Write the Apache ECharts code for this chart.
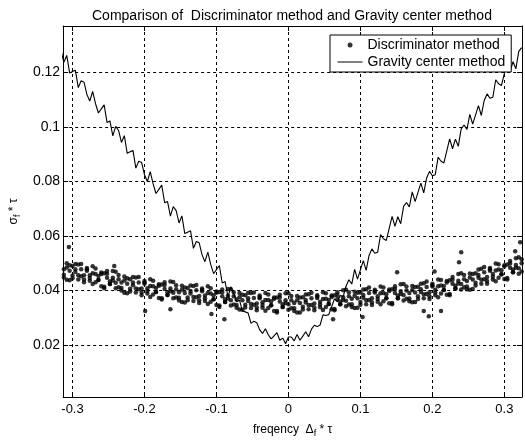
<!DOCTYPE html>
<html><head><meta charset="utf-8">
<script src="https://cdn.jsdelivr.net/npm/echarts@6/dist/echarts.min.js"></script>
<style>html,body{margin:0;padding:0;background:#fff}#c{width:525px;height:443px}</style>
</head><body><div id="c"></div>
<script>
// sample positions (frequency Δf*τ)
const xs = [
-0.316,-0.312,-0.308,-0.304,-0.3,-0.296,-0.292,-0.288,-0.284,-0.28,
-0.276,-0.272,-0.268,-0.264,-0.26,-0.256,-0.252,-0.248,-0.244,-0.24,
-0.236,-0.232,-0.228,-0.224,-0.22,-0.216,-0.212,-0.208,-0.204,-0.2,
-0.196,-0.192,-0.188,-0.184,-0.18,-0.176,-0.172,-0.168,-0.164,-0.16,
-0.156,-0.152,-0.148,-0.144,-0.14,-0.136,-0.132,-0.128,-0.124,-0.12,
-0.116,-0.112,-0.108,-0.104,-0.1,-0.096,-0.092,-0.088,-0.084,-0.08,
-0.076,-0.072,-0.068,-0.064,-0.06,-0.056,-0.052,-0.048,-0.044,-0.04,
-0.036,-0.032,-0.028,-0.024,-0.02,-0.016,-0.012,-0.008,-0.004,0,
0.004,0.008,0.012,0.016,0.02,0.024,0.028,0.032,0.036,0.04,
0.044,0.048,0.052,0.056,0.06,0.064,0.068,0.072,0.076,0.08,
0.084,0.088,0.092,0.096,0.1,0.104,0.108,0.112,0.116,0.12,
0.124,0.128,0.132,0.136,0.14,0.144,0.148,0.152,0.156,0.16,
0.164,0.168,0.172,0.176,0.18,0.184,0.188,0.192,0.196,0.2,
0.204,0.208,0.212,0.216,0.22,0.224,0.228,0.232,0.236,0.24,
0.244,0.248,0.252,0.256,0.26,0.264,0.268,0.272,0.276,0.28,
0.284,0.288,0.292,0.296,0.3,0.304,0.308,0.312,0.316,0.32,
0.324];
// Gravity center method (line)
const gravityY = [
0.128,0.1237,0.1262,0.1198,0.1203,0.1208,0.1144,0.1169,0.1164,0.1119,
0.1095,0.113,0.1085,0.1051,0.1066,0.1081,0.1016,0.1022,0.0967,0.1002,
0.0987,0.0943,0.0968,0.0903,0.0909,0.0914,0.0849,0.0874,0.087,0.0825,
0.080,0.0836,0.0791,0.0756,0.0771,0.0787,0.0722,0.0727,0.0673,0.0708,
0.0693,0.0648,0.0674,0.0609,0.0614,0.0619,0.0555,0.058,0.0575,0.0531,
0.0506,0.0541,0.0496,0.0462,0.0477,0.0492,0.0428,0.0433,0.0378,0.0414,
0.0389,0.0359,0.0365,0.0326,0.0322,0.0318,0.028,0.0288,0.0282,0.0257,
0.0243,0.026,0.0238,0.0223,0.0234,0.0246,0.0218,0.0226,0.0205,0.023,
0.023,0.0216,0.0239,0.0218,0.0233,0.0249,0.0231,0.0259,0.0273,0.0268,
0.0274,0.0311,0.0309,0.0312,0.0341,0.037,0.0359,0.0383,0.0377,0.0416,
0.044,0.0424,0.0478,0.0442,0.0476,0.051,0.0474,0.0529,0.0553,0.0537,
0.0541,0.0605,0.059,0.0584,0.0628,0.0672,0.0636,0.0671,0.0645,0.0709,
0.0723,0.0707,0.0762,0.0726,0.076,0.0794,0.0758,0.0813,0.0837,0.0821,
0.0825,0.0889,0.0874,0.0868,0.0912,0.0956,0.092,0.0955,0.0929,0.0993,
0.1007,0.0991,0.1046,0.101,0.1044,0.1078,0.1042,0.1097,0.1121,0.1105,
0.1109,0.1173,0.1158,0.1152,0.1196,0.124,0.1204,0.1239,0.1213,0.1277,
0.1291];
// Discriminator method (dots), three samples per position
const discY1 = [
0.0505,0.0458,0.0485,0.0438,0.049,0.0468,0.0456,0.0498,0.0431,0.0473,
0.0436,0.0464,0.0481,0.0439,0.0416,0.0464,0.0447,0.0424,0.0472,0.0429,
0.0457,0.041,0.0437,0.039,0.0442,0.042,0.0408,0.045,0.0383,0.0425,
0.0389,0.0417,0.0436,0.0395,0.0373,0.0422,0.0406,0.0384,0.0433,0.0392,
0.042,0.0374,0.0403,0.0356,0.041,0.0389,0.0377,0.0421,0.0355,0.0398,
0.0362,0.0391,0.0409,0.0368,0.0347,0.0395,0.0379,0.0358,0.0406,0.0365,
0.0394,0.0347,0.0376,0.033,0.0383,0.0362,0.0351,0.0393,0.0328,0.0372,
0.0337,0.0366,0.0386,0.0346,0.0325,0.0375,0.036,0.034,0.039,0.035,
0.038,0.0335,0.0365,0.032,0.0376,0.0356,0.0347,0.0392,0.0328,0.0373,
0.0339,0.0369,0.039,0.0351,0.0332,0.0383,0.0369,0.035,0.0401,0.0363,
0.0394,0.035,0.0381,0.0337,0.0393,0.0374,0.0365,0.0411,0.0347,0.0393,
0.0359,0.039,0.0411,0.0372,0.0354,0.0405,0.0391,0.0372,0.0423,0.0384,
0.0415,0.0371,0.0402,0.0358,0.0414,0.0395,0.0387,0.0433,0.0369,0.0415,
0.0383,0.0416,0.0439,0.0402,0.0385,0.0438,0.0425,0.0408,0.0461,0.0424,
0.0457,0.0415,0.0448,0.0406,0.0464,0.0447,0.044,0.0487,0.0425,0.0473,
0.0441,0.0474,0.0497,0.046,0.0443,0.0496,0.0484,0.0467,0.0519,0.0482,
0.0515];
const discY2 = [
0.046,0.0478,0.044,0.0493,0.0445,0.0478,0.0496,0.0453,0.0441,0.0483,
0.0456,0.0424,0.0461,0.0439,0.0466,0.0414,0.0472,0.0424,0.0447,0.0469,
0.0412,0.043,0.0392,0.0445,0.0397,0.043,0.0448,0.0405,0.0393,0.0435,
0.0409,0.0377,0.0416,0.0395,0.0423,0.0372,0.0431,0.0384,0.0408,0.0432,
0.0375,0.0394,0.0358,0.0411,0.0365,0.0399,0.0417,0.0376,0.0365,0.0408,
0.0382,0.0351,0.0389,0.0368,0.0397,0.0345,0.0404,0.0358,0.0381,0.0405,
0.0349,0.0367,0.0331,0.0385,0.0338,0.0372,0.0391,0.0348,0.0338,0.0382,
0.0357,0.0326,0.0366,0.0346,0.0375,0.0325,0.0385,0.034,0.0365,0.039,
0.0335,0.0355,0.032,0.0375,0.0331,0.0366,0.0387,0.0347,0.0338,0.0383,
0.0359,0.0329,0.037,0.0351,0.0382,0.0333,0.0394,0.035,0.0376,0.0403,
0.0349,0.037,0.0336,0.0392,0.0348,0.0384,0.0405,0.0366,0.0357,0.0403,
0.0379,0.035,0.0391,0.0372,0.0404,0.0355,0.0416,0.0372,0.0398,0.0424,
0.037,0.0391,0.0357,0.0413,0.0369,0.0405,0.0427,0.0388,0.0379,0.0425,
0.0403,0.0376,0.0419,0.0402,0.0435,0.0388,0.045,0.0408,0.0436,0.0464,
0.0412,0.0435,0.0403,0.0461,0.0419,0.0457,0.048,0.0442,0.0435,0.0483,
0.0461,0.0434,0.0477,0.046,0.0493,0.0446,0.0509,0.0467,0.0494,0.0522,
0.047];
const discY3 = [
0.049,0.0448,0.05,0.0473,0.0455,0.0498,0.0441,0.0478,0.0456,0.0478,
0.0446,0.0489,0.0431,0.0454,0.0461,0.0409,0.0462,0.0434,0.0437,0.0409,
0.0442,0.04,0.0452,0.0425,0.0407,0.045,0.0393,0.043,0.0408,0.043,
0.0399,0.0442,0.0386,0.041,0.0418,0.0367,0.0421,0.0394,0.0398,0.0372,
0.0405,0.0364,0.0418,0.0391,0.0375,0.0419,0.0362,0.0401,0.038,0.0403,
0.0372,0.0416,0.0359,0.0383,0.0392,0.034,0.0394,0.0368,0.0371,0.0345,
0.0379,0.0337,0.0391,0.0365,0.0348,0.0392,0.0336,0.0373,0.0353,0.0377,
0.0347,0.0391,0.0336,0.0361,0.037,0.032,0.0375,0.035,0.0355,0.033,
0.0365,0.0325,0.038,0.0355,0.0341,0.0386,0.0332,0.0372,0.0353,0.0378,
0.0349,0.0394,0.034,0.0366,0.0377,0.0328,0.0384,0.036,0.0366,0.0343,
0.0379,0.034,0.0396,0.0372,0.0358,0.0404,0.035,0.0391,0.0372,0.0398,
0.0369,0.0415,0.0361,0.0387,0.0399,0.035,0.0406,0.0382,0.0388,0.0364,
0.04,0.0361,0.0417,0.0393,0.0379,0.0425,0.0372,0.0413,0.0394,0.042,
0.0393,0.0441,0.0389,0.0417,0.043,0.0383,0.044,0.0418,0.0426,0.0404,
0.0442,0.0405,0.0463,0.0441,0.0429,0.0477,0.0425,0.0467,0.045,0.0478,
0.0451,0.0499,0.0447,0.0475,0.0488,0.0441,0.0499,0.0477,0.0484,0.0462,
0.05];
// isolated discriminator dots
const discOutX = [-0.305,-0.242,-0.199,-0.164,-0.107,-0.089,0.062,0.103,0.151,0.188,0.195,0.203,0.212,0.237,0.24,0.315,0.322];
const discOutY = [0.056,0.049,0.0325,0.0332,0.0314,0.0295,0.0295,0.0303,0.0467,0.0325,0.0306,0.047,0.0325,0.0504,0.0541,0.0544,0.0577];

const xTicks = [-0.3,-0.2,-0.1,0,0.1,0.2,0.3];
const xTickLabels = ['-0.3','-0.2','-0.1','0','0.1','0.2','0.3'];
const yTicks = [0.02,0.04,0.06,0.08,0.1,0.12];
const yTickLabels = ['0.02','0.04','0.06','0.08','0.1','0.12'];

const FONT = 'Liberation Sans, Arial, sans-serif';
function lab(ticks, labels){
  return function(v){ const i = ticks.findIndex(t => Math.abs(t - v) < 1e-9); return i >= 0 ? labels[i] : ''; };
}
const discData = xs.map((x,i)=>[x, discY1[i]])
  .concat(xs.map((x,i)=>[x, discY2[i]]))
  .concat(xs.map((x,i)=>[x, discY3[i]]))
  .concat(discOutX.map((x,i)=>[x, discOutY[i]]));
const gravData = xs.map((x,i)=>[x, gravityY[i]]);

const black = {color:'#000', width:1};
const XMIN = -0.313, XMAX = 0.3245, YMIN = 0.001, YMAX = 0.137;

const chart = echarts.init(document.getElementById('c'), null, {renderer:'canvas'});
chart.setOption({
  animation: false,
  backgroundColor: '#fff',
  textStyle: {fontFamily: FONT},
  title: {
    text: 'Comparison of  Discriminator method and Gravity center method',
    left: 87, top: 4,
    textStyle: {fontFamily: FONT, fontSize: 14, fontWeight: 'normal', color: '#000'}
  },
  legend: {
    orient: 'vertical', left: 330, top: 35,
    padding: [3, 6, 3, 7], itemGap: 3, itemWidth: 25, itemHeight: 5,
    backgroundColor: '#fff', borderColor: '#000', borderWidth: 1,
    textStyle: {fontFamily: FONT, fontSize: 14, color: '#000'},
    data: [
      {name:'Discriminator method', icon:'circle'},
      {name:'Gravity center method', itemStyle: {opacity: 0}, lineStyle: {width: 1}}
    ]
  },
  grid: {left: 55, right: 3, top: 26, bottom: 45, containLabel: false},
  xAxis: [{
    type: 'value', min: XMIN, max: XMAX, splitNumber: 5, position: 'bottom',
    name: '{t|freqency  Δ}{s|f}{t| * τ}', nameLocation: 'middle', nameGap: 25,
    nameTextStyle: {rich: {
      t: {fontFamily: FONT, fontSize: 12, color: '#000'},
      s: {fontFamily: FONT, fontSize: 9, color: '#000', padding: [7,0,0,0]}
    }},
    axisLine: {show: true, onZero: false, lineStyle: black},
    axisTick: {show: true, inside: true, length: 5, customValues: xTicks, lineStyle: black},
    axisLabel: {customValues: xTicks, formatter: lab(xTicks, xTickLabels), color: '#000', fontSize: 13, fontFamily: FONT, margin: 6},
    splitLine: {show: true, lineStyle: {color: '#000', width: 1, type: [3,3]}}
  }, {
    type: 'value', min: XMIN, max: XMAX, splitNumber: 5, position: 'top',
    axisLine: {show: true, onZero: false, lineStyle: black},
    axisTick: {show: true, inside: true, length: 5, customValues: xTicks, lineStyle: black},
    axisLabel: {show: false}, splitLine: {show: false}
  }],
  yAxis: [{
    type: 'value', min: YMIN, max: YMAX, splitNumber: 5, position: 'left',
    name: '{t|σ}{s|f}{t| * τ}', nameLocation: 'middle', nameGap: 33, nameRotate: 90,
    nameTextStyle: {rich: {
      t: {fontFamily: FONT, fontSize: 12, color: '#000'},
      s: {fontFamily: FONT, fontSize: 9, color: '#000', padding: [7,0,0,0]}
    }},
    axisLine: {show: true, onZero: false, lineStyle: black},
    axisTick: {show: true, inside: true, length: 5, customValues: yTicks, lineStyle: black},
    axisLabel: {customValues: yTicks, formatter: lab(yTicks, yTickLabels), color: '#000', fontSize: 14, fontFamily: FONT, margin: 3},
    splitLine: {show: true, lineStyle: {color: '#000', width: 1, type: [3,3]}}
  }, {
    type: 'value', min: YMIN, max: YMAX, splitNumber: 5, position: 'right',
    axisLine: {show: true, onZero: false, lineStyle: black},
    axisTick: {show: true, inside: true, length: 5, customValues: yTicks, lineStyle: black},
    axisLabel: {show: false}, splitLine: {show: false}
  }],
  series: [{
    name: 'Discriminator method', type: 'scatter', xAxisIndex: 0, yAxisIndex: 0,
    symbol: 'circle', symbolSize: 4.5, itemStyle: {color: '#000'}, data: discData, z: 2
  }, {
    name: 'Gravity center method', type: 'line', xAxisIndex: 0, yAxisIndex: 0,
    symbol: 'none', showSymbol: false, lineStyle: {color: '#000', width: 1.1},
    itemStyle: {color: '#000'}, data: gravData, z: 3
  }]
});
</script>
</body></html>
